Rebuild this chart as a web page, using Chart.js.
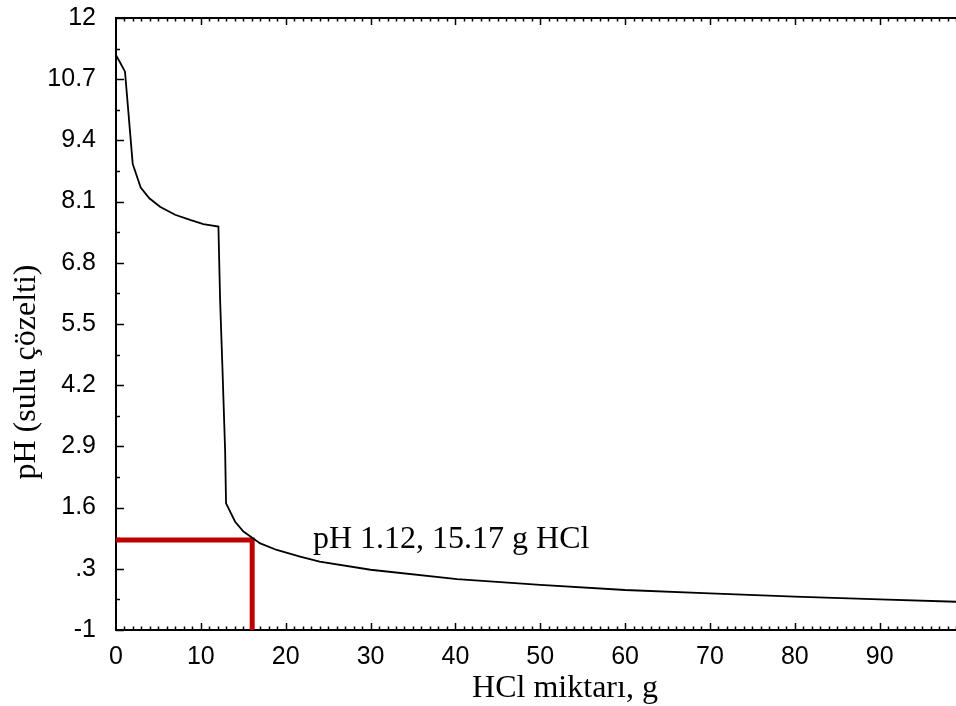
<!DOCTYPE html>
<html>
<head>
<meta charset="utf-8">
<script src="https://cdn.jsdelivr.net/npm/chart.js@4.4.1/dist/chart.umd.min.js"></script>
<style>
  html, body { margin: 0; padding: 0; background: #fff; }
  #wrap { width: 956px; height: 706px; }
</style>
</head>
<body>
<div id="wrap"><canvas id="chart" width="956" height="706"></canvas></div>
<script>
// values
const hclGrams = [0, 0.5, 1.06, 1.97, 2.91, 3.93, 5.19, 6.96, 8.73, 10.3, 12.07, 12.27, 12.54, 12.86, 12.97, 14.04, 15.02, 17.0, 18.95, 21.7, 24.0, 30.0, 40.2, 50.0, 60.0, 70.0, 80.0, 90.0, 99.0];
const phValues = [11.21, 11.05, 10.86, 8.90, 8.40, 8.17, 7.99, 7.82, 7.71, 7.62, 7.57, 6.01, 4.59, 2.82, 1.69, 1.30, 1.09, 0.84, 0.70, 0.56, 0.45, 0.28, 0.08, -0.04, -0.15, -0.22, -0.29, -0.35, -0.40];

// red marker lines (as drawn in the picture)
const markerX = 16.05;
const markerPH = 0.91;
const markerText = 'pH 1.12, 15.17 g HCl';

// axes
const xTickValues = [0, 10, 20, 30, 40, 50, 60, 70, 80, 90];
const yTickValues = [12, 10.7, 9.4, 8.1, 6.8, 5.5, 4.2, 2.9, 1.6, 0.3, -1];
const yTickLabels = ['12', '10.7', '9.4', '8.1', '6.8', '5.5', '4.2', '2.9', '1.6', '.3', '-1'];
const xTitle = 'HCl miktarı, g';
const yTitle = 'pH (sulu çözelti)';

const curve = hclGrams.map((x, i) => ({ x: x, y: phValues[i] }));
const marker = [
    { x: 0, y: markerPH },
    { x: markerX, y: markerPH },
    { x: markerX, y: -1 }
];

// axis frame with inward ticks + free text
const framePlugin = {
    id: 'frame',
    beforeDatasetsDraw(chart) {
        const ctx = chart.ctx;
        const a = chart.chartArea;
        const xs = chart.scales.x;
        const ys = chart.scales.y;
        ctx.save();
        ctx.strokeStyle = '#000';
        ctx.lineWidth = 2;
        ctx.beginPath();
        ctx.moveTo(a.right + 2, a.top);
        ctx.lineTo(a.left, a.top);
        ctx.lineTo(a.left, a.bottom);
        ctx.lineTo(a.right + 2, a.bottom);
        ctx.stroke();

        ctx.lineWidth = 1.5;
        ctx.beginPath();
        for (let v = 1; v <= xs.max; v++) {
            const px = Math.round(xs.getPixelForValue(v)) + 0.5;
            const len = v % 10 === 0 ? 7 : 3.5;
            ctx.moveTo(px, a.bottom);
            ctx.lineTo(px, a.bottom - len);
            ctx.moveTo(px, a.top);
            ctx.lineTo(px, a.top + len);
        }
        yTickValues.forEach((v, i) => {
            const py = Math.round(ys.getPixelForValue(v)) + 0.5;
            ctx.moveTo(a.left, py);
            ctx.lineTo(a.left + 8, py);
            if (i < yTickValues.length - 1) {
                const mid = (v + yTickValues[i + 1]) / 2;
                const my = Math.round(ys.getPixelForValue(mid)) + 0.5;
                ctx.moveTo(a.left, my);
                ctx.lineTo(a.left + 4, my);
            }
        });
        ctx.stroke();
        ctx.restore();
    },
    afterDraw(chart) {
        const ctx = chart.ctx;
        ctx.save();
        ctx.fillStyle = '#000';
        ctx.font = '32px "Liberation Serif", "Times New Roman", serif';
        ctx.textBaseline = 'alphabetic';
        ctx.textAlign = 'left';
        ctx.fillText(markerText, 313, 548);

        ctx.textAlign = 'center';
        ctx.fillText(xTitle, 565, 697);

        ctx.translate(35, 372);
        ctx.rotate(-Math.PI / 2);
        ctx.fillText(yTitle, 0, 0);
        ctx.restore();
    }
};

new Chart(document.getElementById('chart'), {
    type: 'scatter',
    data: {
        datasets: [
            {
                data: curve,
                showLine: true,
                borderColor: '#000',
                borderWidth: 1.8,
                pointRadius: 0,
                tension: 0,
                fill: false
            },
            {
                data: marker,
                showLine: true,
                borderColor: '#c00000',
                borderWidth: 5,
                pointRadius: 0,
                tension: 0,
                clip: false,
                borderCapStyle: 'butt',
                borderJoinStyle: 'miter'
            }
        ]
    },
    options: {
        responsive: false,
        animation: false,
        devicePixelRatio: 1,
        layout: { padding: { top: 18, right: 0, left: 0, bottom: 0 } },
        plugins: {
            legend: { display: false },
            tooltip: { enabled: false }
        },
        scales: {
            x: {
                type: 'linear',
                min: 0,
                max: 99,
                grid: { display: false },
                border: { display: false },
                afterBuildTicks: (scale) => { scale.ticks = xTickValues.map(v => ({ value: v })); },
                afterFit: (scale) => {
                    scale.height = 76;
                    scale.paddingLeft = 0;
                    scale.paddingRight = 0;
                },
                ticks: {
                    color: '#000',
                    padding: 4,
                    maxRotation: 0,
                    font: { family: '"Liberation Sans", Arial, sans-serif', size: 25 }
                }
            },
            y: {
                type: 'linear',
                min: -1,
                max: 12,
                grid: { display: false },
                border: { display: false },
                afterBuildTicks: (scale) => { scale.ticks = yTickValues.map(v => ({ value: v })); },
                afterFit: (scale) => {
                    scale.width = 116;
                    scale.paddingTop = 0;
                    scale.paddingBottom = 0;
                },
                ticks: {
                    color: '#000',
                    padding: 12,
                    callback: (v, i) => yTickLabels[i],
                    font: { family: '"Liberation Sans", Arial, sans-serif', size: 25 }
                }
            }
        }
    },
    plugins: [framePlugin]
});
</script>
</body>
</html>
